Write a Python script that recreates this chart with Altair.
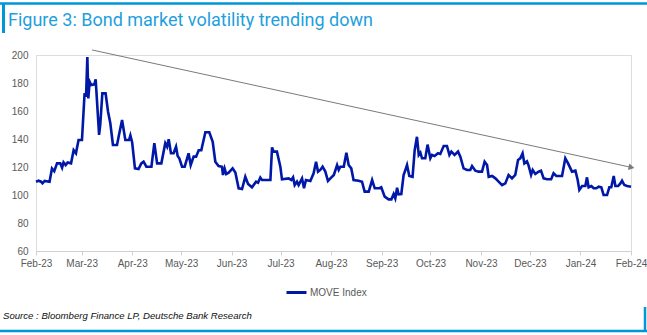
import altair as alt
import pandas as pd

# ---- data ----
days = [0.0, 1.6, 3.1, 4.0, 5.3, 8.3, 9.8, 11.2, 12.9, 14.9, 16.0, 16.9, 18.2, 19.4, 21.5,
        23.1, 24.5, 26.1, 28.2, 29.8, 30.7, 31.5, 32.1, 32.9, 33.9, 35.8, 36.6, 38.7, 39.4,
        40.7, 42.7, 44.2, 45.6, 47.2, 49.7, 50.9, 52.8, 54.8, 57.1, 57.9, 59.0, 60.7, 62.9,
        64.6, 66.0, 67.7, 70.8, 72.6, 74.3, 76.9, 79.3, 80.4, 81.4, 82.8, 84.4, 85.9, 86.9,
        87.9, 89.6, 91.2, 93.6, 94.9, 96.7, 98.2, 99.8, 101.4, 103.9, 106.3, 108.4, 110.0,
        112.0, 114.1, 114.7, 115.7, 116.7, 118.2, 120.6, 122.3, 124.3, 126.4, 128.4, 130.1,
        132.5, 135.0, 136.2, 137.6, 138.7, 141.7, 143.8, 144.8, 145.8, 147.8, 149.9, 150.9,
        155.0, 156.6, 157.7, 158.7, 160.1, 161.1, 163.2, 164.4, 165.6, 168.3, 170.3, 171.8,
        173.0, 174.4, 175.8, 177.5, 179.1, 180.6, 182.7, 184.7, 185.7, 186.7, 188.8, 190.4,
        191.8, 193.4, 194.8, 197.9, 200.0, 201.6, 204.1, 206.2, 207.8, 210.6, 211.8, 213.9,
        216.3, 218.0, 219.4, 220.4, 221.5, 222.4, 224.1, 225.5, 226.6, 227.6, 229.0, 231.0,
        232.3, 233.7, 234.8, 235.8, 236.8, 238.8, 240.2, 241.9, 242.9, 244.5, 246.6, 248.0,
        250.1, 252.1, 253.6, 254.8, 256.8, 258.9, 260.3, 262.3, 264.4, 266.4, 267.5, 269.5,
        271.5, 273.6, 275.2, 276.7, 277.7, 279.8, 281.8, 283.8, 285.9, 287.9, 289.9, 292.0,
        294.0, 295.7, 297.1, 298.5, 299.6, 301.2, 302.2, 303.7, 304.7, 306.3, 308.3, 309.8,
        311.4, 313.5, 316.0, 317.5, 319.2, 322.7, 324.7, 326.4, 328.8, 330.9, 332.3, 333.3,
        335.0, 337.0, 338.0, 339.0, 340.7, 342.1, 343.7, 345.2, 346.8, 348.2, 350.3, 351.7,
        352.9, 354.4, 355.4, 357.1, 358.5, 359.5, 360.9, 362.6, 365.0]
move = [109.5, 110.2, 109.5, 108.3, 110.0, 109.5, 119.0, 117.0, 122.6, 122.6, 119.5, 123.3,
        121.4, 123.3, 122.6, 132.0, 129.8, 139.3, 139.3, 172.6, 170.2, 198.5, 169.0, 181.0,
        178.6, 179.0, 182.6, 142.9, 150.0, 172.6, 172.6, 159.5, 151.2, 135.7, 135.7, 142.9,
        153.6, 139.3, 139.3, 142.5, 137.5, 119.0, 118.6, 122.6, 123.8, 120.2, 120.2, 137.0,
        122.6, 122.6, 137.0, 134.5, 139.8, 129.8, 129.8, 134.5, 127.9, 126.2, 120.2, 120.2,
        129.8, 121.4, 127.4, 127.4, 132.0, 132.0, 144.8, 144.8, 138.0, 123.8, 120.7, 120.2,
        114.3, 119.0, 115.0, 116.0, 119.0, 116.0, 104.8, 104.3, 113.0, 107.9, 105.5, 109.5,
        108.8, 112.4, 110.7, 110.7, 110.7, 134.0, 131.0, 131.0, 120.2, 111.2, 111.9, 110.7,
        112.6, 107.1, 109.5, 107.1, 111.9, 104.8, 110.7, 110.0, 115.5, 123.8, 116.7, 117.9,
        120.2, 116.7, 110.0, 111.9, 114.3, 121.4, 117.9, 120.2, 120.2, 130.2, 121.4, 119.0,
        110.7, 110.2, 109.5, 102.4, 102.4, 110.7, 104.8, 104.8, 105.5, 98.8, 96.9, 96.9,
        100.7, 97.6, 105.2, 100.5, 100.7, 114.3, 117.9, 121.4, 113.6, 113.0, 132.0, 141.6,
        128.6, 130.2, 126.2, 126.2, 136.0, 126.2, 128.6, 127.9, 129.8, 129.3, 135.0, 135.0,
        128.6, 131.0, 128.6, 131.0, 127.4, 119.0, 117.9, 117.9, 120.7, 117.4, 116.7, 116.7,
        123.8, 121.4, 113.0, 113.6, 111.9, 109.5, 107.1, 108.3, 114.3, 111.9, 114.3, 125.0,
        126.2, 129.8, 122.6, 124.0, 121.0, 114.3, 117.9, 115.0, 116.7, 117.4, 111.9, 111.2,
        111.2, 115.5, 113.6, 113.6, 126.2, 122.6, 116.7, 117.4, 110.7, 103.6, 106.4, 106.4,
        112.6, 105.5, 106.4, 104.8, 104.8, 105.9, 105.5, 100.0, 100.0, 105.5, 105.5, 113.6,
        106.4, 106.4, 108.3, 110.2, 107.1, 106.4, 105.9]
series_name = "MOVE Index"

# trend arrow (start / end), days since 2023-02-01 and index level
arrow_days = [34.4, 365.3]
arrow_vals = [203.6, 119.7]

y_ticks = [60, 80, 100, 120, 140, 160, 180, 200]
month_ticks = [(2023, m) for m in range(2, 13)] + [(2024, 1), (2024, 2)]

title_text = "Figure 3: Bond market volatility trending down"
source_text = "Source : Bloomberg Finance LP, Deutsche Bank Research"

# ---- build tables ----
start = pd.Timestamp("2023-02-01")
df = pd.DataFrame({
    "date": [start + pd.Timedelta(days=d) for d in days],
    "value": move,
    "series": series_name,
})
arrow_df = pd.DataFrame({
    "date": [start + pd.Timedelta(days=d) for d in arrow_days],
    "value": arrow_vals,
})
one = pd.DataFrame({"k": [0]})

BLUE = "#0018a8"
FRAME = "#0096d8"
GREY_TXT = "#595959"
FONT = "Liberation Sans"

x_scale = alt.Scale(domain=[alt.DateTime(year=2023, month=2, date=1),
                            alt.DateTime(year=2024, month=2, date=1)])
y_scale = alt.Scale(domain=[60, 200], nice=False, zero=False)

x_axis = alt.Axis(
    title="", values=[alt.DateTime(year=y, month=m, date=1) for y, m in month_ticks],
    format="%b-%y", grid=False, domainColor="#d0d0d0", tickColor="#d0d0d0",
    tickSize=4, labelPadding=3, labelFontSize=10, labelColor=GREY_TXT,
    labelFont=FONT, labelOverlap=False, labelFlush=False)
y_axis = alt.Axis(
    title="", values=y_ticks, grid=False, domain=False, ticks=False,
    labelPadding=8, labelFontSize=10, labelColor=GREY_TXT, labelFont=FONT,
    labelOverlap=False, labelFlush=False)

X = alt.X("date:T", scale=x_scale, axis=x_axis)
Y = alt.Y("value:Q", scale=y_scale, axis=y_axis)

line = alt.Chart(df).mark_line(strokeWidth=2.6).encode(
    x=X, y=Y,
    color=alt.Color("series:N",
                    scale=alt.Scale(domain=[series_name], range=[BLUE]),
                    legend=alt.Legend(title=None, orient="none", legendX=249, legendY=226,
                                      symbolType="stroke", symbolSize=400,
                                      symbolStrokeWidth=3, labelFontSize=10,
                                      labelColor=GREY_TXT, labelFont=FONT,
                                      labelOffset=2)),
)

arrow_line = alt.Chart(arrow_df).mark_line(color="#7a7a7a", strokeWidth=1).encode(x=X, y=Y)
arrow_head = alt.Chart(arrow_df.tail(1)).mark_point(
    shape="triangle-right", filled=True, color="#7a7a7a", size=45, angle=12, opacity=1
).encode(x=X, y=Y)

title = alt.Chart(one).mark_text(
    text=title_text, align="left", baseline="middle", fontSize=18,
    font="Roboto", color="#1f9fdc").encode(x=alt.value(-28), y=alt.value(-34))
source = alt.Chart(one).mark_text(
    text=source_text, align="left", baseline="middle", fontSize=9.6,
    font=FONT, fontStyle="italic", color="#111111").encode(x=alt.value(-33), y=alt.value(261))

top_rule = alt.Chart(one).mark_rule(color=FRAME, strokeWidth=2.5).encode(
    x=alt.value(-36), x2=alt.value(611), y=alt.value(-51.5))
left_bar = alt.Chart(one).mark_rule(color=FRAME, strokeWidth=3).encode(
    x=alt.value(-32.5), y=alt.value(-52), y2=alt.value(-22))
bottom_rule = alt.Chart(one).mark_rule(color=FRAME, strokeWidth=2.5).encode(
    x=alt.value(-36), x2=alt.value(611), y=alt.value(276))
right_bar = alt.Chart(one).mark_rule(color=FRAME, strokeWidth=2.5).encode(
    x=alt.value(609), y=alt.value(252), y2=alt.value(277))

chart = alt.layer(
    line, arrow_line, arrow_head, title, source,
    top_rule, left_bar, bottom_rule, right_bar
).properties(
    width=595, height=196,
    padding={"left": 36, "top": 55, "right": 16, "bottom": 84},
    autosize=alt.AutoSizeParams(type="none"),
).configure_view(stroke=None).configure_axis(
    labelOverlap=False
).configure(font=FONT, background="white")

chart.save("out.html", embed_options={"renderer": "svg", "actions": False})
